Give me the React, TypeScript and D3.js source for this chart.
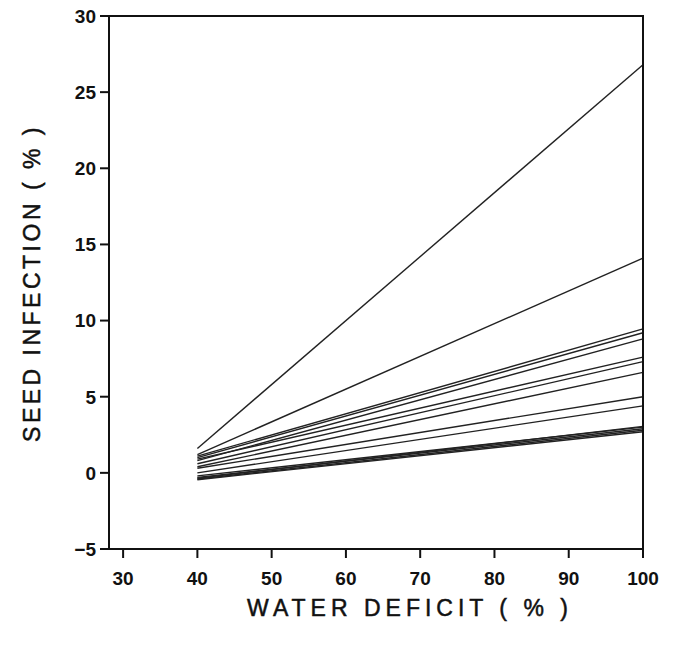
import React from "react";
import * as d3 from "d3";

const xStart = 40;
const xEnd = 100;
const startValues = [1.6, 1.2, 1.1, 1.0, 0.8, 0.9, 0.6, 0.4, 0.3, 0.0, -0.2, -0.3, -0.4, -0.45, -0.35];
const endValues = [26.8, 14.1, 9.45, 9.2, 8.8, 7.6, 7.3, 6.6, 5.0, 4.4, 3.0, 2.9, 2.8, 2.7, 3.05];
const xTicks = [30, 40, 50, 60, 70, 80, 90, 100];
const yTicks = [-5, 0, 5, 10, 15, 20, 25, 30];

const W = 674, H = 649;
const left = 109, right = 643, top = 16, bottom = 549;

export default function App() {
  const x = d3.scaleLinear().domain([28.1, 100]).range([left, right]);
  const y = d3.scaleLinear().domain([-5, 30]).range([bottom, top]);
  const line = d3.line<[number, number]>().x(d => x(d[0])).y(d => y(d[1]));
  const font = "'Liberation Sans', Arial, sans-serif";
  return (
    <svg width={W} height={H} style={{ position: "absolute", left: 0, top: 0, background: "#fff" }}>
      {startValues.map((s, i) => (
        <path key={i} d={line([[xStart, s], [xEnd, endValues[i]]]) || ""} stroke="#222" strokeWidth={1.4} fill="none" />
      ))}
      <rect x={left} y={top} width={right - left} height={bottom - top} fill="none" stroke="#111" strokeWidth={2} />
      {yTicks.map(t => (
        <g key={t}>
          <line x1={left - 9} x2={left} y1={y(t)} y2={y(t)} stroke="#111" strokeWidth={2} />
          <text x={left - 13} y={y(t)} dy="0.36em" textAnchor="end" fontFamily={font} fontWeight="bold" fontSize={19} fill="#111">{t < 0 ? "\u2212" + Math.abs(t) : t}</text>
        </g>
      ))}
      {xTicks.map(t => (
        <g key={t}>
          <line x1={x(t)} x2={x(t)} y1={bottom} y2={bottom + 9} stroke="#111" strokeWidth={2} />
          <text x={x(t)} y={bottom + 36} textAnchor="middle" fontFamily={font} fontWeight="bold" fontSize={19} fill="#111">{t}</text>
        </g>
      ))}
      <text x={410} y={616} textAnchor="middle" fontFamily={font} fontSize={23} letterSpacing={5} stroke="#111" strokeWidth={0.5} fill="#111">WATER DEFICIT ( % )</text>
      <text transform={`translate(40,${283}) rotate(-90)`} textAnchor="middle" fontFamily={font} fontSize={23} letterSpacing={3.5} stroke="#111" strokeWidth={0.5} fill="#111">SEED INFECTION ( % )</text>
    </svg>
  );
}
